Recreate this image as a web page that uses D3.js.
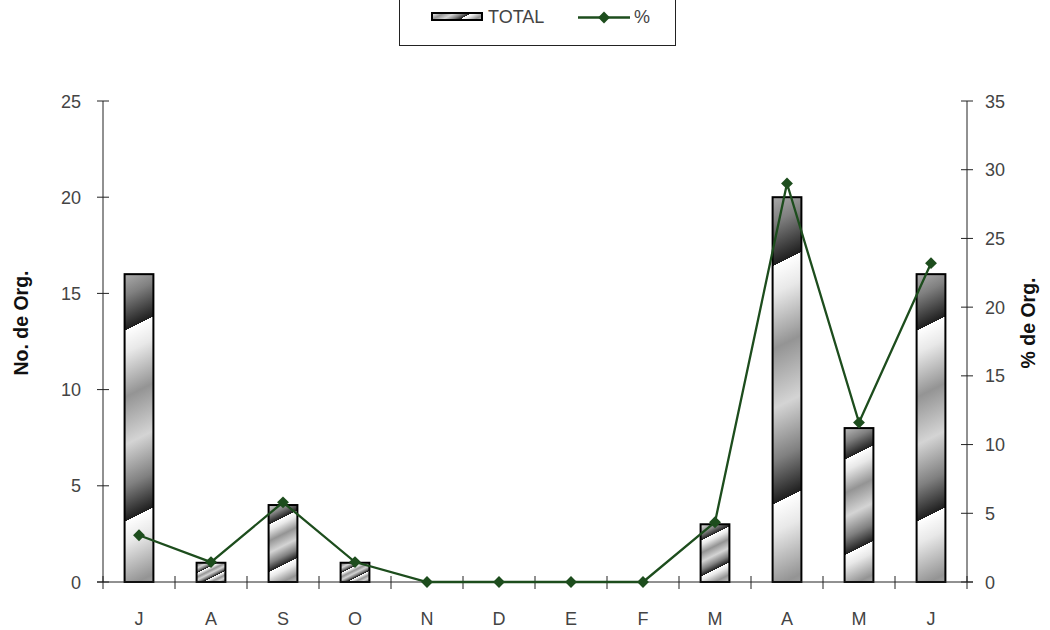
<!DOCTYPE html>
<html>
<head>
<meta charset="utf-8">
<script src="https://cdn.jsdelivr.net/npm/d3@7"></script>
<style>
  html, body { margin: 0; padding: 0; background: #fff; }
  svg { display: block; font-family: "Liberation Sans", Arial, sans-serif; }
</style>
</head>
<body>
<svg id="chart" width="1050" height="630"></svg>
<script>
// Monthly counts of organisms and their share of the total
const months = ["J", "A", "S", "O", "N", "D", "E", "F", "M", "A", "M", "J"];
const totals = [16, 1, 4, 1, 0, 0, 0, 0, 3, 20, 8, 16];
const percents = [3.4, 1.45, 5.8, 1.45, 0, 0, 0, 0, 4.35, 29.0, 11.6, 23.2];
const leftTicks = [0, 5, 10, 15, 20, 25];
const rightTicks = [0, 5, 10, 15, 20, 25, 30, 35];
const seriesNames = ["TOTAL", "%"];

const svg = d3.select("#chart");
const plot = { left: 103, right: 967, top: 101, bottom: 582 };
const lineColor = "#1d4d1d";
const textColor = "#444";

const x = d3.scaleBand()
  .domain(d3.range(months.length))
  .range([plot.left, plot.right]);
const yL = d3.scaleLinear().domain([0, 25]).range([plot.bottom, plot.top]);
const yR = d3.scaleLinear().domain([0, 35]).range([plot.bottom, plot.top]);

const defs = svg.append("defs");

// Diagonal sawtooth shading used on each bar (white fading to dark, sharp reset)
function addShade(id, x0, y0, x1, y1) {
  const g = defs.append("linearGradient")
    .attr("id", id)
    .attr("gradientUnits", "userSpaceOnUse")
    .attr("spreadMethod", "repeat")
    .attr("x1", x0).attr("y1", y0).attr("x2", x1).attr("y2", y1);
  const stops = [
    [0, "#ffffff"], [0.12, "#e8e8e8"], [0.35, "#949494"], [0.6, "#d4d4d4"],
    [0.82, "#808080"], [1, "#1e1e1e"]
  ];
  stops.forEach(([o, c]) => g.append("stop").attr("offset", o).attr("stop-color", c));
}

const barW = x.bandwidth() * 0.4;
const bars = totals.map((v, i) => {
  const cx = x(i) + x.bandwidth() / 2;
  const top = yL(v);
  const h = yL(0) - top;
  return { i, v, cx, top, h };
}).filter(d => d.v > 0);

bars.forEach(d => {
  const p = Math.max(d.h * 0.62, 10);
  const y0 = d.top + d.h * 0.16;
  addShade("shade" + d.i, d.cx, y0, d.cx + 0.4 * p, y0 + 0.8 * p);
});

svg.append("g").selectAll("rect")
  .data(bars)
  .join("rect")
  .attr("x", d => d.cx - barW / 2)
  .attr("y", d => d.top)
  .attr("width", barW)
  .attr("height", d => d.h)
  .attr("fill", d => `url(#shade${d.i})`)
  .attr("stroke", "#000")
  .attr("stroke-width", 2);

// Axes
const axisG = svg.append("g").attr("stroke", "#222").attr("stroke-width", 1).attr("fill", "none");
axisG.append("line").attr("x1", plot.left).attr("x2", plot.left).attr("y1", plot.top).attr("y2", plot.bottom);
axisG.append("line").attr("x1", plot.right).attr("x2", plot.right).attr("y1", plot.top).attr("y2", plot.bottom);
axisG.append("line").attr("x1", plot.left - 6).attr("x2", plot.right + 6).attr("y1", plot.bottom).attr("y2", plot.bottom);

leftTicks.forEach(t => {
  axisG.append("line").attr("x1", plot.left - 6).attr("x2", plot.left + 6)
    .attr("y1", yL(t)).attr("y2", yL(t));
});
rightTicks.forEach(t => {
  axisG.append("line").attr("x1", plot.right - 6).attr("x2", plot.right + 6)
    .attr("y1", yR(t)).attr("y2", yR(t));
});
d3.range(months.length + 1).forEach(i => {
  const xx = plot.left + i * x.step();
  axisG.append("line").attr("x1", xx).attr("x2", xx)
    .attr("y1", plot.bottom - 6).attr("y2", plot.bottom + 7);
});

const labels = svg.append("g").attr("fill", textColor).attr("font-size", 18);
labels.selectAll(".lt").data(leftTicks).join("text")
  .attr("x", 81).attr("y", d => yL(d) + 6.5)
  .attr("text-anchor", "end").text(d => d);
labels.selectAll(".rt").data(rightTicks).join("text")
  .attr("x", 985).attr("y", d => yR(d) + 6.5)
  .attr("text-anchor", "start").text(d => d);
labels.selectAll(".mt").data(months).join("text")
  .attr("x", (d, i) => x(i) + x.bandwidth() / 2).attr("y", 625)
  .attr("text-anchor", "middle").text(d => d);

// Axis titles
svg.append("text")
  .attr("transform", "translate(28,323) rotate(-90)")
  .attr("text-anchor", "middle").attr("font-size", 19.5).attr("font-weight", "bold")
  .attr("fill", "#111").text("No. de Org.");
svg.append("text")
  .attr("transform", "translate(1035,323) rotate(-90)")
  .attr("text-anchor", "middle").attr("font-size", 19.5).attr("font-weight", "bold")
  .attr("fill", "#111").text("% de Org.");

// Percentage line with diamond markers
const line = d3.line()
  .x((d, i) => x(i) + x.bandwidth() / 2)
  .y(d => yR(d));
svg.append("path")
  .datum(percents)
  .attr("d", line)
  .attr("fill", "none")
  .attr("stroke", lineColor)
  .attr("stroke-width", 2.3);

const marker = d3.symbol().type(d3.symbolSquare).size(70);
svg.append("g").selectAll("path")
  .data(percents)
  .join("path")
  .attr("transform", (d, i) => `translate(${x(i) + x.bandwidth() / 2},${yR(d)}) rotate(45)`)
  .attr("d", marker)
  .attr("fill", lineColor);

// Legend
const leg = svg.append("g");
leg.append("rect").attr("x", 399.5).attr("y", -10).attr("width", 276).attr("height", 55.5)
  .attr("fill", "#fff").attr("stroke", "#222").attr("stroke-width", 1);
addShade("shadeLegend", 431, 12, 441, 30);
leg.append("rect").attr("x", 432).attr("y", 13).attr("width", 50).attr("height", 7)
  .attr("fill", "url(#shadeLegend)").attr("stroke", "#000").attr("stroke-width", 2);
leg.append("text").attr("x", 488).attr("y", 23).attr("font-size", 18).attr("fill", textColor)
  .text(seriesNames[0]);
leg.append("line").attr("x1", 578).attr("x2", 630).attr("y1", 17.5).attr("y2", 17.5)
  .attr("stroke", lineColor).attr("stroke-width", 2.3);
leg.append("path").attr("transform", "translate(604,17.5) rotate(45)")
  .attr("d", marker).attr("fill", lineColor);
leg.append("text").attr("x", 634).attr("y", 23).attr("font-size", 18).attr("fill", textColor)
  .text(seriesNames[1]);
</script>
</body>
</html>
